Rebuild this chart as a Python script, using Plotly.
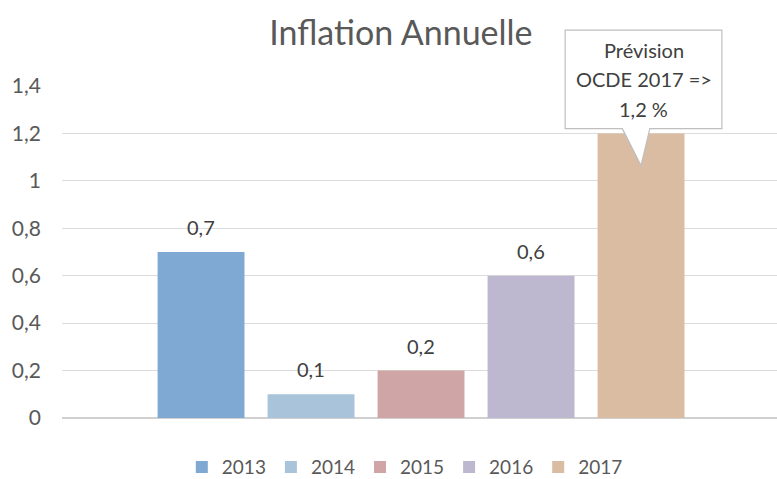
import plotly.graph_objects as go

years = ["2013", "2014", "2015", "2016", "2017"]
values = [0.7, 0.1, 0.2, 0.6, 1.2]
colors = ["#7FA9D3", "#A9C4DA", "#CFA5A6", "#BDB7D0", "#D9BCA2"]
y_ticks = [0, 0.2, 0.4, 0.6, 0.8, 1.0, 1.2, 1.4]
callout_lines = ["Prévision", "OCDE 2017 =>", "1,2 %"]

FONT = "Lato, 'Open Sans', sans-serif"
XR = [-1.264, 5.236]
YR = [0, 1.4]

def px(x):
    return (x - XR[0]) / (XR[1] - XR[0])

def py(y):
    return (y - YR[0]) / (YR[1] - YR[0])

fig = go.Figure()
for i, (yr, v, c) in enumerate(zip(years, values, colors)):
    fig.add_trace(go.Bar(
        x=[i], y=[v], name=yr, marker=dict(color=c, line=dict(width=0)),
        width=0.79, hoverinfo="skip",
    ))
    if i < len(years) - 1:
        fig.add_annotation(x=i, y=v, xref="x", yref="y", text=f"{v:.1f}".replace(".", ","),
                           showarrow=False, yanchor="bottom", xanchor="center", yshift=11,
                           font=dict(size=20, color="#404040", family=FONT))

# callout for the last bar (speech bubble), in paper coordinates
ci = len(years) - 1
cv = values[ci]
bx0, bx1 = px(ci - 0.69), px(ci + 0.735)
by0, by1 = py(cv + 0.02), py(cv + 0.436)
tx0, tx1 = px(ci - 0.17), px(ci + 0.08)
tipx, tipy = px(ci), py(cv - 0.135)
path = (f"M {bx0} {by0} L {tx0} {by0} L {tipx} {tipy} L {tx1} {by0} "
        f"L {bx1} {by0} L {bx1} {by1} L {bx0} {by1} Z")
fig.add_shape(type="path", path=path, xref="paper", yref="paper",
              fillcolor="white", line=dict(color="#BFBFBF", width=1.2), layer="above")
cx = (bx0 + bx1) / 2
cy = (by0 + by1) / 2
line_step = 0.089
for k, line in enumerate(callout_lines):
    fig.add_annotation(x=cx, y=cy + (1 - k) * line_step, xref="paper", yref="paper",
                       text=line, showarrow=False, xanchor="center", yanchor="middle",
                       font=dict(size=20, color="#404040", family=FONT))

fig.update_layout(
    width=777, height=479,
    margin=dict(l=62, r=0, t=86, b=61, autoexpand=False),
    paper_bgcolor="white", plot_bgcolor="white",
    separators=", ",
    title=dict(text="Inflation Annuelle", xref="container", x=0.516, xanchor="center",
               yref="container", y=0.931, yanchor="middle",
               font=dict(size=34, color="#595959", family=FONT)),
    showlegend=True,
    legend=dict(orientation="h", xref="container", x=0.521, xanchor="center",
                yref="container", y=0.025, yanchor="middle",
                font=dict(size=19, color="#595959", family=FONT), itemwidth=30,
                traceorder="normal"),
    bargap=0.2,
    xaxis=dict(range=XR, showticklabels=False, showgrid=False,
               zeroline=False, showline=False, ticks=""),
    yaxis=dict(range=YR, tickvals=y_ticks, showgrid=True, gridcolor="#DCDCDC",
               gridwidth=1, zeroline=True, zerolinecolor="#D0D0D0", showline=False,
               tickfont=dict(size=21, color="#595959", family=FONT), ticklabelstandoff=20),
)

fig.write_html("out.html", post_script="document.body.style.margin='0';",
               config={"displayModeBar": False})
